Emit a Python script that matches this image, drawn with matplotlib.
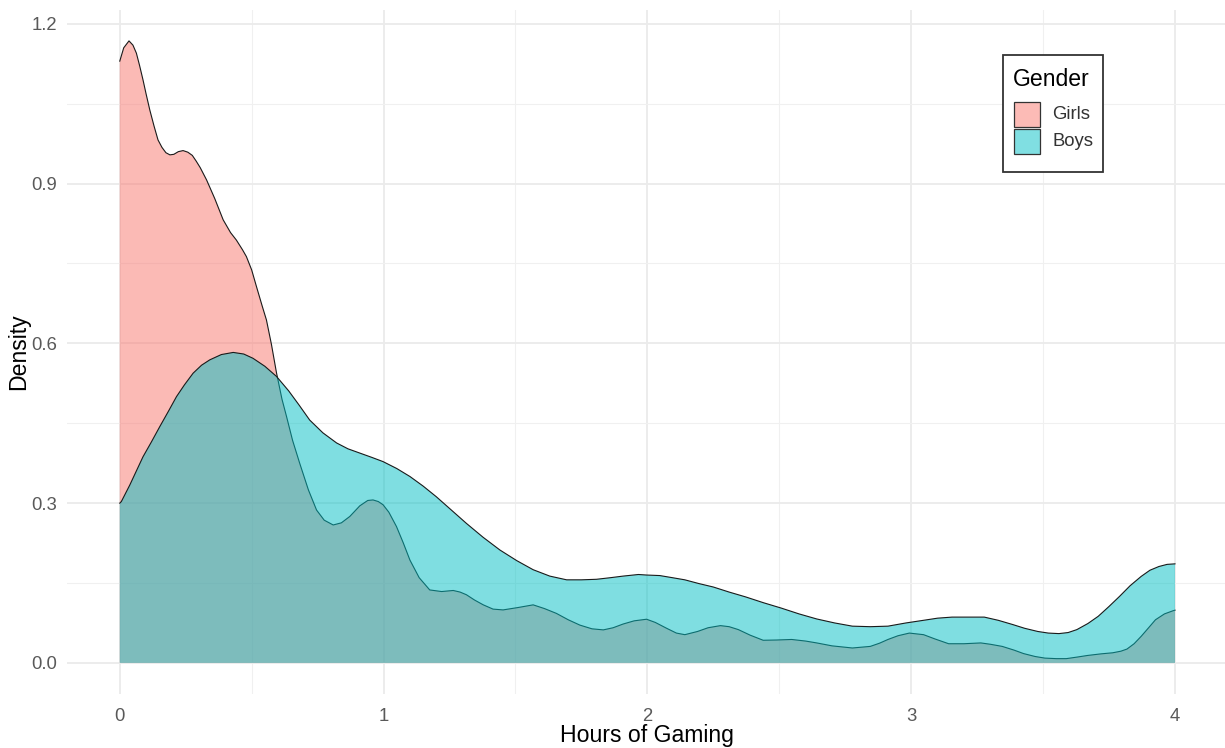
import matplotlib
matplotlib.use("Agg")
import matplotlib.pyplot as plt
from matplotlib.patches import Rectangle
from matplotlib.ticker import MultipleLocator
import numpy as np

plt.rcParams['font.family'] = ['Liberation Sans', 'DejaVu Sans']

# ---- data ----
girls_x = [0.000, 0.015, 0.035, 0.050, 0.063, 0.075, 0.088, 0.100, 0.114, 0.130,
           0.145, 0.160, 0.175, 0.190, 0.205, 0.222, 0.240, 0.258, 0.275, 0.290,
           0.305, 0.329, 0.360, 0.392, 0.420, 0.442, 0.465, 0.480, 0.500, 0.518,
           0.540, 0.556, 0.575, 0.594, 0.615, 0.632, 0.655, 0.682, 0.715, 0.746,
           0.775, 0.809, 0.840, 0.872, 0.910, 0.940, 0.960, 0.980, 0.998, 1.020,
           1.049, 1.075, 1.100, 1.135, 1.175, 1.220, 1.264, 1.290, 1.314, 1.345,
           1.378, 1.415, 1.453, 1.510, 1.567, 1.610, 1.655, 1.700, 1.744, 1.790,
           1.833, 1.870, 1.908, 1.950, 1.997, 2.030, 2.073, 2.110, 2.142, 2.190,
           2.230, 2.277, 2.310, 2.345, 2.390, 2.439, 2.490, 2.547, 2.600, 2.642,
           2.700, 2.777, 2.845, 2.880, 2.912, 2.950, 2.993, 3.047, 3.090, 3.142,
           3.200, 3.264, 3.300, 3.345, 3.390, 3.426, 3.470, 3.507, 3.550, 3.588,
           3.630, 3.669, 3.720, 3.764, 3.795, 3.818, 3.845, 3.872, 3.900, 3.926,
           3.960, 3.993, 4.000]
girls_y = [1.130, 1.155, 1.168, 1.160, 1.145, 1.122, 1.095, 1.068, 1.038, 1.008,
           0.982, 0.968, 0.958, 0.954, 0.955, 0.960, 0.962, 0.959, 0.953, 0.942,
           0.930, 0.907, 0.872, 0.832, 0.808, 0.794, 0.776, 0.763, 0.738, 0.707,
           0.670, 0.644, 0.598, 0.545, 0.495, 0.463, 0.418, 0.375, 0.325, 0.287,
           0.268, 0.259, 0.263, 0.275, 0.295, 0.305, 0.306, 0.303, 0.297, 0.283,
           0.256, 0.225, 0.193, 0.160, 0.137, 0.134, 0.136, 0.133, 0.128, 0.118,
           0.109, 0.101, 0.0995, 0.104, 0.109, 0.102, 0.093, 0.081, 0.071, 0.064,
           0.062, 0.066, 0.073, 0.079, 0.082, 0.076, 0.065, 0.056, 0.053, 0.059,
           0.066, 0.070, 0.068, 0.0625, 0.052, 0.0425, 0.043, 0.044, 0.041, 0.0375,
           0.032, 0.028, 0.031, 0.037, 0.044, 0.051, 0.056, 0.053, 0.045, 0.036,
           0.036, 0.0375, 0.035, 0.031, 0.024, 0.0175, 0.012, 0.009, 0.008, 0.008,
           0.011, 0.014, 0.017, 0.019, 0.022, 0.026, 0.036, 0.050, 0.066, 0.081,
           0.092, 0.098, 0.099]

boys_x = [0.000, 0.006, 0.038, 0.088, 0.120, 0.152, 0.185, 0.215, 0.245, 0.278,
          0.310, 0.341, 0.385, 0.430, 0.470, 0.505, 0.550, 0.594, 0.640, 0.680,
          0.720, 0.770, 0.822, 0.865, 0.910, 0.955, 0.998, 1.050, 1.100, 1.150,
          1.200, 1.257, 1.314, 1.377, 1.441, 1.505, 1.567, 1.630, 1.694, 1.750,
          1.807, 1.860, 1.908, 1.966, 1.997, 2.047, 2.095, 2.142, 2.195, 2.250,
          2.310, 2.372, 2.440, 2.507, 2.575, 2.642, 2.710, 2.777, 2.845, 2.912,
          2.980, 3.047, 3.100, 3.155, 3.215, 3.277, 3.330, 3.385, 3.430, 3.480,
          3.520, 3.560, 3.595, 3.628, 3.670, 3.709, 3.750, 3.790, 3.830, 3.872,
          3.905, 3.939, 3.970, 4.000]
boys_y = [0.300, 0.303, 0.334, 0.387, 0.415, 0.444, 0.473, 0.500, 0.522, 0.544,
          0.559, 0.569, 0.579, 0.583, 0.580, 0.572, 0.557, 0.538, 0.511, 0.484,
          0.456, 0.432, 0.413, 0.402, 0.394, 0.386, 0.378, 0.365, 0.350, 0.332,
          0.312, 0.287, 0.262, 0.236, 0.212, 0.192, 0.175, 0.163, 0.156, 0.156,
          0.157, 0.160, 0.163, 0.166, 0.165, 0.164, 0.160, 0.156, 0.149, 0.1425,
          0.133, 0.124, 0.113, 0.103, 0.092, 0.0825, 0.075, 0.069, 0.068, 0.069,
          0.075, 0.080, 0.084, 0.086, 0.086, 0.086, 0.080, 0.072, 0.065, 0.059,
          0.056, 0.055, 0.057, 0.0625, 0.074, 0.0875, 0.106, 0.125, 0.145, 0.1625,
          0.174, 0.181, 0.185, 0.186]

groups = ["Girls", "Boys"]
colors = ["#F8766D", "#00BFC4"]
legend_title = "Gender"
x_label = "Hours of Gaming"
y_label = "Density"
x_ticks = [0, 1, 2, 3, 4]
y_ticks = [0.0, 0.3, 0.6, 0.9, 1.2]
y_tick_labels = ["0.0", "0.3", "0.6", "0.9", "1.2"]

# ---- figure ----
W, H = 1225, 748
fig = plt.figure(figsize=(W / 100, H / 100), dpi=100)


def fx(px):
    return px / W


def fy(py):
    return 1 - py / H


left_px, right_px, top_px, bot_px = 67, 1225, 10, 694
ax = fig.add_axes([fx(left_px), fy(bot_px), (right_px - left_px) / W, (bot_px - top_px) / H])

series = [(girls_x, girls_y), (boys_x, boys_y)]
for i, ((xs, ys), c) in enumerate(zip(series, colors)):
    ax.fill_between(xs, 0, ys, facecolor=c, alpha=0.5, linewidth=0, zorder=2 + 2 * i)
    ax.plot(xs, ys, color="#1a1a1a", linewidth=0.8, zorder=3 + 2 * i,
            solid_joinstyle="round")

ax.set_xlim(-0.2, (1225 - 120) / 263.75)
ax.set_ylim(-0.0584, 1.226)

ax.set_xticks(x_ticks)
ax.set_xticklabels([str(t) for t in x_ticks])
ax.set_yticks(y_ticks)
ax.set_yticklabels(y_tick_labels)
ax.xaxis.set_minor_locator(MultipleLocator(0.5))
ax.yaxis.set_minor_locator(MultipleLocator(0.15))

ax.grid(which="major", color="#EBEBEB", linewidth=1.3)
ax.grid(which="minor", color="#F0F0F0", linewidth=0.8)
ax.set_axisbelow(True)
for s in ax.spines.values():
    s.set_visible(False)
ax.tick_params(which="both", length=0)
ax.tick_params(axis="both", labelsize=13.3, labelcolor="#595959")
ax.tick_params(axis="x", pad=10)
ax.tick_params(axis="y", pad=7)

# axis titles
fig.text(fx(647), fy(742), x_label, fontsize=16.6, color="black",
         ha="center", va="baseline")
fig.text(fx(19), fy(352), y_label, fontsize=16.6, color="black",
         ha="center", va="center", rotation=90)

# legend (drawn in figure pixel coordinates)
fig.patches.append(Rectangle((fx(1003), fy(172)), (1103 - 1003) / W, (172 - 55) / H,
                             transform=fig.transFigure, facecolor="white",
                             edgecolor="#333333", linewidth=1.3, zorder=10))
fig.text(fx(1013), fy(86), legend_title, fontsize=16.6, color="black",
         ha="left", va="baseline", zorder=11)
key_tops = [102, 129]
for c, label, kt in zip(colors, groups, key_tops):
    rgb = np.array(matplotlib.colors.to_rgb(c)) * 0.5 + 0.5
    fig.patches.append(Rectangle((fx(1014), fy(kt + 25)), 26 / W, 25 / H,
                                 transform=fig.transFigure, facecolor=rgb,
                                 edgecolor="#333333", linewidth=0.9, zorder=11))
    fig.text(fx(1052), fy(kt + 12.5), label, fontsize=13.3, color="#333333",
             ha="left", va="center", zorder=11)

fig.savefig("out.png", dpi=100)
